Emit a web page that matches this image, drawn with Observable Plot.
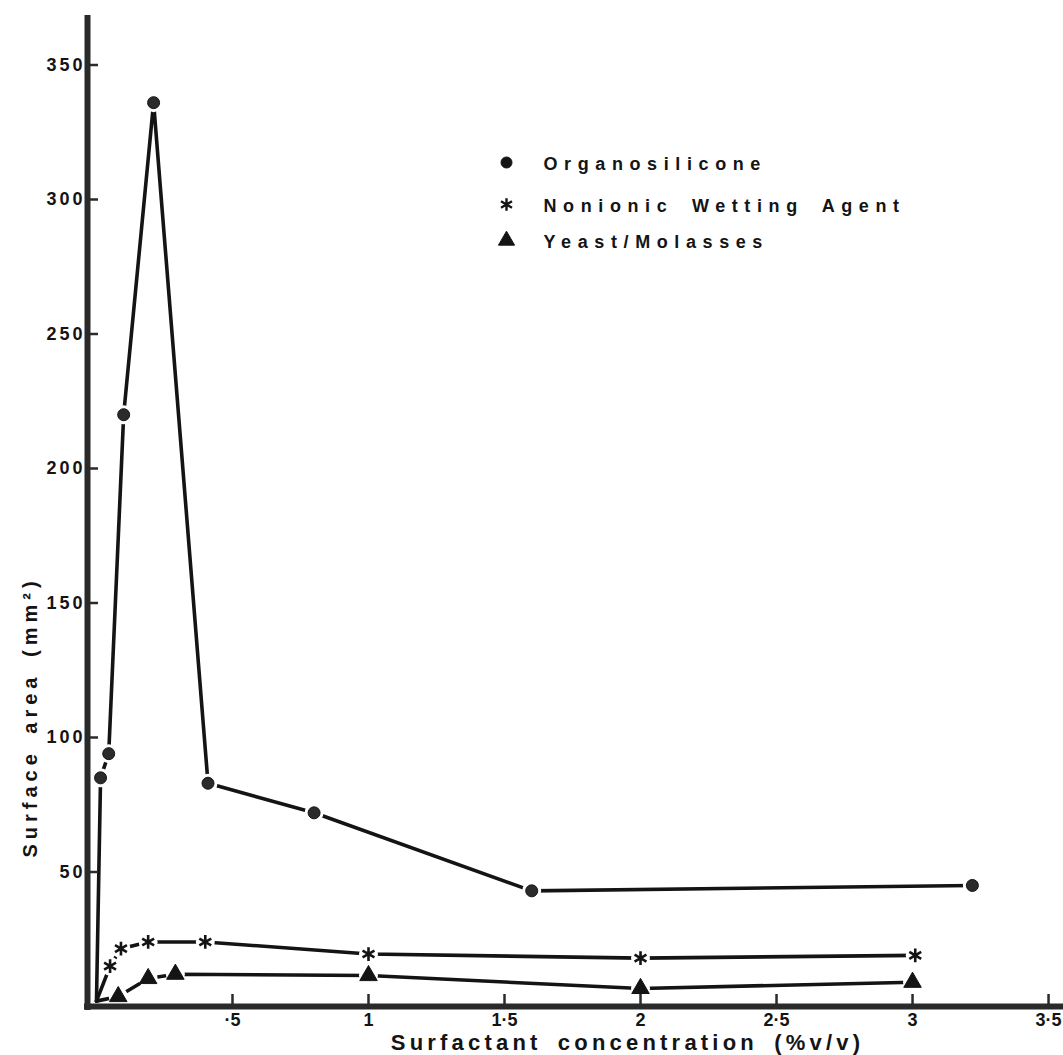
<!DOCTYPE html>
<html><head><meta charset="utf-8">
<script src="https://cdn.jsdelivr.net/npm/d3@7"></script>
<script src="https://cdn.jsdelivr.net/npm/@observablehq/plot@0.6"></script>
<style>
html,body{margin:0;padding:0;background:#fff;}
#chart svg{display:block;}
g[aria-label="y-axis tick label"] text{letter-spacing:3px;}
g[aria-label="x-axis tick label"] text{letter-spacing:0px;}
g[aria-description="xtitle"] text{letter-spacing:4.2px;word-spacing:6px;}
g[aria-description="ytitle"] text{letter-spacing:5px;word-spacing:5px;}
g[aria-description="legendtext"] text{letter-spacing:6.6px;word-spacing:7px;}
</style></head><body><div id="chart"></div>
<script>
// ---- data ----
const organoX = [0, 0.015, 0.045, 0.1, 0.21, 0.41, 0.8, 1.6, 3.22];
const organoY = [2, 85, 94, 220, 336, 83, 72, 43, 45];
const wettingX = [0, 0.05, 0.09, 0.19, 0.4, 1.0, 2.0, 3.01];
const wettingY = [2, 15, 21.5, 24, 24, 19.5, 18, 19];
const yeastX = [0, 0.08, 0.19, 0.29, 1.0, 2.0, 3.0];
const yeastY = [2, 3.7, 10.4, 12, 11.5, 6.7, 9];
const seriesNames = ["Organosilicone", "Nonionic Wetting Agent", "Yeast/Molasses"];
const seriesSymbols = ["circle", "asterisk", "triangle"];
const xTicks = [0.5, 1, 1.5, 2, 2.5, 3, 3.5];
const xTickLabels = ["·5", "1", "1·5", "2", "2·5", "3", "3·5"];
const yTicks = [50, 100, 150, 200, 250, 300, 350];
const xTitle = "Surfactant concentration (%v/v)";
const yTitle = "Surface area (mm²)";

const xDomain = [-0.033, 3.555];
const yDomain = [0, 368.4];

const build = (name, xs, ys) => xs.map((x, i) => ({series: name, x, y: ys[i]}));
const rows = [
  ...build(seriesNames[0], organoX, organoY),
  ...build(seriesNames[1], wettingX, wettingY),
  ...build(seriesNames[2], yeastX, yeastY)
];
const markerRows = rows.filter(d => d.x > 0);
const ink = "#141414";

const marks = [
  Plot.line(rows, {x: "x", y: "y", z: "series", stroke: ink, strokeWidth: 3.6}),
  Plot.dot(markerRows, {x: "x", y: "y", r: 9.5, fill: "white", stroke: "none"}),
  Plot.ruleX([xDomain[0]], {stroke: "#2a2a2a", strokeWidth: 6, insetBottom: -4}),
  Plot.ruleY([0], {stroke: "#2a2a2a", strokeWidth: 6, insetLeft: -3}),
  Plot.axisY({ticks: yTicks, label: null, tickSize: -11, tickPadding: 13, tickFormat: d => String(d), fontSize: 18, strokeWidth: 2.5, stroke: "#2a2a2a"}),
  Plot.axisX({ticks: xTicks, label: null, tickSize: -12, tickPadding: 19, tickFormat: d => xTickLabels[xTicks.indexOf(d)], fontSize: 18, strokeWidth: 2.5, stroke: "#2a2a2a"}),
  Plot.dot(markerRows.filter(d => d.series === seriesNames[0]), {x: "x", y: "y", r: 6, fill: "#2b2b2b", stroke: ink, strokeWidth: 1}),
  Plot.dot(markerRows.filter(d => d.series === seriesNames[1]), {x: "x", y: "y", r: 6.5, symbol: "asterisk", stroke: ink, strokeWidth: 2.6}),
  Plot.dot(markerRows.filter(d => d.series === seriesNames[2]), {x: "x", y: "y", r: 6.5, symbol: "triangle", fill: ink, stroke: ink, strokeWidth: 1}),
  Plot.text([yTitle], {frameAnchor: "left", rotate: -90, dx: -57, dy: 206, fontSize: 20, textAnchor: "middle", ariaDescription: "ytitle", fill: ink}),
  Plot.text([xTitle], {frameAnchor: "bottom", dx: 52, dy: 36, fontSize: 22, textAnchor: "middle", lineAnchor: "middle", ariaDescription: "xtitle", fill: ink})
];

const legendDy = [147, 189, 225];
seriesNames.forEach((name, i) => {
  const sym = seriesSymbols[i];
  marks.push(Plot.dot([name], {
    frameAnchor: "top-left", dx: 419, dy: legendDy[i], symbol: sym,
    r: sym === "circle" ? 5.5 : 6,
    fill: sym === "asterisk" ? "none" : ink,
    stroke: ink, strokeWidth: sym === "asterisk" ? 2.4 : 1
  }));
  marks.push(Plot.text([name], {
    frameAnchor: "top-left", dx: 456, dy: legendDy[i] + 2, text: d => d,
    textAnchor: "start", lineAnchor: "middle", fontSize: 18, ariaDescription: "legendtext", fill: ink
  }));
});

const chart = Plot.plot({
  width: 1063,
  height: 1055,
  marginLeft: 87,
  marginRight: 0,
  marginTop: 15,
  marginBottom: 49,
  style: "font-family: 'Liberation Sans', Arial, sans-serif; font-weight: bold; font-size: 18px; color: #141414; background: #fff;",
  x: {domain: xDomain, label: null},
  y: {domain: yDomain, label: null},
  marks
});
document.getElementById("chart").appendChild(chart);
</script>
</body></html>
